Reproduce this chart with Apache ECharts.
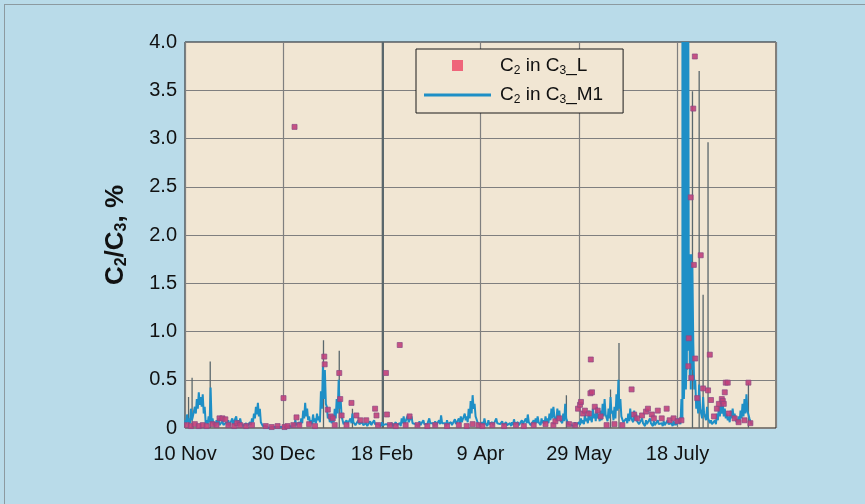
<!DOCTYPE html>
<html>
<head>
<meta charset="utf-8">
<script src="https://cdn.jsdelivr.net/npm/echarts@6/dist/echarts.min.js"></script>
<style>
    html, body { margin: 0; padding: 0; background: #b9dbe9; overflow: hidden; }
    #frame { position: absolute; left: 4px; top: 4px; width: 880px; height: 520px; border: 1px solid #8c9aa0; }
    #chart1 { position: absolute; left: 0; top: 0; width: 865px; height: 504px; }
</style>
</head>
<body>
<div id="frame"></div>
<div id="chart1"></div>
<script>
// x axis: days since 10 Nov, ticks every 50 days
var xTickLabels = ["10 Nov", "30 Dec", "18 Feb", "9 Apr", "29 May", "18 July"];
var yTickLabels = ["0", "0.5", "1.0", "1.5", "2.0", "2.5", "3.0", "3.5", "4.0"];

// C2 in C3_M1, daily high reading (day 0 .. 288)
var m1Values = [
    0.08, 0.14, 0.1, 0.2, 0.12, 0.22, 0.3, 0.37, 0.32, 0.35,
    0.22, 0.08, 0.12, 0.42, 0.1, 0.06, 0.08, 0.1, 0.05, 0.07,
    0.04, 0.06, 0.08, 0.05, 0.1, 0.07, 0.12, 0.08, 0.1, 0.06,
    0.04, 0.05, 0.03, 0.06, 0.1, 0.15, 0.22, 0.26, 0.2, 0.08,
    0.03, 0.02, 0.01, 0.02, 0.01, 0.03, 0.02, 0.01, 0.02, 0.01,
    0.01, 0.02, 0.01, 0.02, 0.03, 0.05, 0.08, 0.04, 0.06, 0.1,
    0.18, 0.26, 0.2, 0.12, 0.08, 0.14, 0.1, 0.15, 0.12, 0.38,
    0.64, 0.6, 0.22, 0.14, 0.1, 0.12, 0.2, 0.3, 0.5, 0.3,
    0.1, 0.06, 0.08, 0.05, 0.1, 0.15, 0.07, 0.05, 0.08, 0.04,
    0.06, 0.03, 0.05, 0.04, 0.07, 0.05, 0.08, 0.06, 0.04, 0.05,
    0.06, 0.05, 0.04, 0.06, 0.03, 0.05, 0.04, 0.06, 0.03, 0.05,
    0.1, 0.12, 0.06, 0.13, 0.08, 0.12, 0.06, 0.04, 0.05, 0.07,
    0.05, 0.08, 0.06, 0.04, 0.1, 0.06, 0.05, 0.07, 0.04, 0.08,
    0.13, 0.06, 0.05, 0.08, 0.04, 0.06, 0.05, 0.09, 0.06, 0.1,
    0.12, 0.08, 0.15, 0.12, 0.2, 0.28, 0.34, 0.25, 0.14, 0.06,
    0.04, 0.06, 0.1, 0.05, 0.08, 0.04, 0.06, 0.05, 0.1, 0.06,
    0.04, 0.07, 0.05, 0.06, 0.04, 0.05, 0.06, 0.09, 0.05, 0.06,
    0.05, 0.08, 0.06, 0.1, 0.14, 0.07, 0.05, 0.08, 0.1, 0.12,
    0.06, 0.1, 0.08, 0.12, 0.1, 0.15, 0.2, 0.22, 0.14, 0.2,
    0.18, 0.1, 0.15, 0.25, 0.1, 0.05, 0.03, 0.05, 0.06, 0.04,
    0.06, 0.1, 0.08, 0.14, 0.1, 0.18, 0.12, 0.2, 0.15, 0.22,
    0.14, 0.18, 0.25, 0.3, 0.15, 0.2, 0.32, 0.18, 0.22, 0.35,
    0.5, 0.3, 0.14, 0.08, 0.1, 0.15, 0.2, 0.12, 0.18, 0.15,
    0.08, 0.06, 0.1, 0.05, 0.08, 0.06, 0.1, 0.05, 0.07, 0.05,
    0.08, 0.06, 0.05, 0.07, 0.05, 0.08, 0.06, 0.05, 0.07, 0.06,
    0.1, 0.08, 0.3, 4.0, 4.0, 4.0, 1.6, 1.8, 0.9, 0.5,
    0.3, 0.45, 0.2, 0.32, 0.15, 0.22, 0.1, 0.08, 0.05, 0.08,
    0.15, 0.22, 0.28, 0.25, 0.2, 0.15, 0.12, 0.18, 0.2, 0.15,
    0.1, 0.12, 0.18, 0.25, 0.3, 0.35, 0.2, 0.1, 0.05
];
// C2 in C3_M1, mid-day low reading (day 0.5 .. 287.5)
var m1Low = [
    0.04, 0.06, 0.05, 0.08, 0.1, 0.15, 0.2, 0.24, 0.22, 0.15,
    0.05, 0.04, 0.06, 0.05, 0.03, 0.02, 0.04, 0.03, 0.02, 0.03,
    0.02, 0.03, 0.02, 0.04, 0.03, 0.05, 0.04, 0.03, 0.05, 0.02,
    0.02, 0.02, 0.01, 0.03, 0.06, 0.1, 0.14, 0.12, 0.06, 0.02,
    0.01, 0.01, 0.0, 0.01, 0.0, 0.01, 0.01, 0.0, 0.01, 0.0,
    0.0, 0.01, 0.0, 0.01, 0.01, 0.02, 0.03, 0.02, 0.03, 0.05,
    0.1, 0.12, 0.08, 0.05, 0.04, 0.06, 0.05, 0.08, 0.06, 0.2,
    0.3, 0.25, 0.1, 0.06, 0.05, 0.06, 0.1, 0.15, 0.2, 0.12,
    0.04, 0.03, 0.04, 0.02, 0.05, 0.06, 0.03, 0.02, 0.04, 0.02,
    0.03, 0.01, 0.02, 0.02, 0.03, 0.02, 0.04, 0.03, 0.02, 0.02,
    0.03, 0.02, 0.02, 0.03, 0.01, 0.02, 0.02, 0.03, 0.01, 0.02,
    0.05, 0.04, 0.03, 0.06, 0.04, 0.05, 0.03, 0.02, 0.02, 0.03,
    0.02, 0.04, 0.03, 0.02, 0.05, 0.03, 0.02, 0.03, 0.02, 0.04,
    0.05, 0.03, 0.02, 0.04, 0.02, 0.03, 0.02, 0.04, 0.03, 0.05,
    0.06, 0.04, 0.08, 0.06, 0.1, 0.15, 0.2, 0.12, 0.06, 0.03,
    0.02, 0.03, 0.05, 0.02, 0.04, 0.02, 0.03, 0.02, 0.05, 0.03,
    0.02, 0.03, 0.02, 0.03, 0.02, 0.02, 0.03, 0.04, 0.02, 0.03,
    0.02, 0.04, 0.03, 0.05, 0.06, 0.03, 0.02, 0.04, 0.05, 0.06,
    0.03, 0.05, 0.04, 0.06, 0.05, 0.08, 0.1, 0.12, 0.07, 0.1,
    0.08, 0.05, 0.07, 0.1, 0.04, 0.02, 0.01, 0.02, 0.03, 0.02,
    0.03, 0.05, 0.04, 0.07, 0.05, 0.08, 0.06, 0.1, 0.07, 0.1,
    0.07, 0.08, 0.12, 0.14, 0.07, 0.1, 0.15, 0.08, 0.1, 0.18,
    0.2, 0.12, 0.06, 0.04, 0.05, 0.07, 0.1, 0.06, 0.08, 0.07,
    0.04, 0.03, 0.05, 0.02, 0.04, 0.03, 0.05, 0.02, 0.03, 0.02,
    0.04, 0.03, 0.02, 0.03, 0.02, 0.04, 0.03, 0.02, 0.03, 0.03,
    0.05, 0.04, 0.1, 0.5, 0.6, 0.8, 0.5, 0.6, 0.4, 0.2,
    0.15, 0.2, 0.1, 0.15, 0.08, 0.1, 0.05, 0.04, 0.03, 0.04,
    0.08, 0.12, 0.15, 0.12, 0.1, 0.08, 0.06, 0.1, 0.1, 0.08,
    0.05, 0.06, 0.1, 0.12, 0.15, 0.18, 0.1, 0.04
];
// extra M1 readings inside the July upset (fills the column)
var burstDays = [252.5, 253.25, 253.5, 253.75, 254.25, 254.5, 254.75, 255.25, 255.5, 255.75, 256.25, 256.5, 256.75, 257.25, 257.5];
var burstValues = [4.0, 0.3, 4.0, 0.5, 0.4, 4.0, 0.6, 0.8, 4.0, 1.0, 0.5, 1.8, 0.4, 0.6, 1.7];

// single high M1 readings (thin spikes)
var spikeDays = [1.8, 3.6, 12.8, 70.3, 78.3, 85, 100.2, 100.7, 193.6, 216, 220.3, 257.6, 261, 263, 265.5, 286];
var spikeValues = [0.32, 0.52, 0.69, 0.91, 0.8, 0.2, 4.0, 4.0, 0.34, 0.4, 0.88, 3.49, 3.7, 1.38, 2.96, 0.47];

// C2 in C3_L lab samples
var lDays = [
    1, 3, 5, 7, 9, 11, 14, 16, 17.5, 19, 20.5, 22, 25, 26.5, 28, 31, 34, 41, 44, 47, 50, 50.5, 52, 55, 55.6, 56.6, 58, 63, 66,
    70.7, 70.9, 72.5, 74, 75, 76, 78.3, 78.8, 79.5, 82, 84.5, 87, 89, 92, 96.5, 97.2, 98, 102, 102.5, 104, 107, 109, 112, 114, 118, 123, 127, 133, 139, 143, 146, 149, 151, 156, 162, 168, 172, 177, 183, 187, 188, 190, 195, 198,
    199.5, 200.5, 201, 202, 203, 205, 205.8, 206, 206.6, 208, 209.5, 211, 214, 218, 222, 226.7, 228, 229.5, 232, 234, 235, 237, 238, 240, 242, 244.5, 246, 248, 250, 252,
    255.5, 255.7, 256.7, 257, 258, 258.3, 258.8, 259, 260, 261.8, 263, 265.5, 266.4, 267, 268.5, 270, 271, 272.5, 273, 273.5, 274, 274.5, 275.5, 276, 279, 281, 284, 286, 287
];
var lValues = [
    0.03, 0.02, 0.04, 0.02, 0.03, 0.02, 0.04, 0.03, 0.1, 0.1, 0.09, 0.03, 0.02, 0.05, 0.03, 0.02, 0.03, 0.02, 0.01, 0.02, 0.31, 0.01, 0.02, 0.03, 3.12, 0.11, 0.03, 0.04, 0.02,
    0.74, 0.66, 0.19, 0.12, 0.1, 0.03, 0.57, 0.3, 0.13, 0.03, 0.26, 0.13, 0.08, 0.08, 0.2, 0.13, 0.03, 0.57, 0.14, 0.03, 0.02, 0.86, 0.03, 0.12, 0.03, 0.02, 0.03, 0.02, 0.03, 0.02, 0.04, 0.03, 0.02, 0.03, 0.02, 0.03, 0.02, 0.03, 0.04, 0.03, 0.07, 0.1, 0.04, 0.03,
    0.2, 0.24, 0.27, 0.15, 0.18, 0.15, 0.36, 0.71, 0.37, 0.22, 0.18, 0.12, 0.03, 0.04, 0.03, 0.4, 0.14, 0.1, 0.13, 0.17, 0.2, 0.14, 0.1, 0.18, 0.1, 0.2, 0.08, 0.1, 0.07, 0.08,
    0.64, 0.93, 2.39, 0.52, 3.31, 1.69, 3.85, 0.72, 0.31, 1.79, 0.41, 0.39, 0.76, 0.29, 0.12, 0.2, 0.25, 0.3, 0.28, 0.25, 0.37, 0.47, 0.47, 0.15, 0.1, 0.06, 0.08, 0.47, 0.05
];

var nameL = "C2 in C3_L";
var nameM1 = "C2 in C3_M1";

var m1Data = [];
for (var i = 0; i < m1Values.length; i++) {
    m1Data.push([i, m1Values[i]]);
}
for (var i = 0; i < m1Low.length; i++) {
    m1Data.push([i + 0.5, m1Low[i]]);
}
for (var i = 0; i < burstDays.length; i++) {
    m1Data.push([burstDays[i], burstValues[i]]);
}
m1Data.sort(function (a, b) { return a[0] - b[0]; });

var spikeData = [];
for (var i = 0; i < spikeDays.length; i++) {
    spikeData.push([spikeDays[i], 0], [spikeDays[i], spikeValues[i]], [spikeDays[i], '-']);
}

var lData = [];
for (var i = 0; i < lDays.length; i++) {
    lData.push([lDays[i], lValues[i]]);
}

var subRich = {
    a: { fontSize: 19, color: "#111", lineHeight: 22 },
    s: { fontSize: 12, color: "#111", lineHeight: 10, verticalAlign: "bottom" }
};

var myChart = echarts.init(document.getElementById("chart1"), null, { renderer: "canvas" });
var option = {
    animation: false,
    textStyle: { fontFamily: "Liberation Sans, Arial, sans-serif" },
    grid: {
        left: 185, top: 42, right: 89, bottom: 76,
        show: true,
        backgroundColor: "#f1e6d3",
        borderColor: "#1a1a1a",
        borderWidth: 1
    },
    legend: {
        left: 416, top: 49,
        orient: "vertical",
        backgroundColor: "#f1e6d3",
        borderColor: "#1a1a1a",
        borderWidth: 1,
        borderRadius: 0,
        padding: [7, 20, 7, 8],
        itemGap: 9,
        itemWidth: 67,
        itemHeight: 11,
        data: [
            { name: nameL, icon: "path://M0,0L10,0L10,10L0,10Z", itemStyle: { color: "#ee5670", borderWidth: 0 } },
            { name: nameM1, icon: "path://M0,4L67,4L67,7L0,7Z", itemStyle: { color: "#1e8fc6", borderWidth: 0 } }
        ],
        formatter: function (name) {
            if (name === nameL) {
                return "{a|C}{s|2}{a| in C}{s|3}{a|_L}";
            }
            return "{a|C}{s|2}{a| in C}{s|3}{a|_M1}";
        },
        textStyle: { padding: [0, 0, 0, 4], rich: subRich }
    },
    xAxis: {
        type: "value",
        min: 0, max: 300, interval: 50,
        axisLine: { show: false },
        axisTick: { show: false },
        splitLine: { lineStyle: { color: "#7f7f7f", width: 1.2 } },
        axisLabel: {
            color: "#111", fontSize: 20, margin: 16,
            showMaxLabel: false,
            formatter: function (v) {
                var k = Math.round(v / 50);
                return xTickLabels[k] || "";
            }
        }
    },
    yAxis: {
        type: "value",
        min: 0, max: 4, interval: 0.5,
        axisLine: { show: false },
        axisTick: { show: false },
        splitLine: { lineStyle: { color: "#7f7f7f", width: 1.2 } },
        axisLabel: {
            color: "#111", fontSize: 20, margin: 8,
            formatter: function (v) {
                return yTickLabels[Math.round(v / 0.5)];
            }
        },
        name: "{b|C}{bs|2}{b|/C}{bs|3}{b|, %}",
        nameLocation: "middle",
        nameGap: 55,
        nameTextStyle: {
            rich: {
                b: { fontSize: 26, fontWeight: "bold", color: "#111", lineHeight: 28 },
                bs: { fontSize: 16, fontWeight: "bold", color: "#111", lineHeight: 12, verticalAlign: "bottom" }
            }
        }
    },
    series: [
        {
            name: "spikes",
            type: "line",
            data: spikeData,
            symbol: "none",
            connectNulls: false,
            lineStyle: { color: "#5a676c", width: 1.3 },
            z: 1
        },
        {
            name: nameM1,
            type: "line",
            data: m1Data,
            symbol: "none",
            lineStyle: { color: "#1e8fc6", width: 2 },
            itemStyle: { color: "#1e8fc6" },
            z: 2
        },
        {
            name: nameL,
            type: "scatter",
            data: lData,
            symbol: "rect",
            symbolSize: 5,
            itemStyle: { color: "#c2407a", borderColor: "#8c4a84", borderWidth: 0.8, opacity: 0.9 },
            z: 3
        }
    ]
};
myChart.setOption(option);
</script>
</body>
</html>
